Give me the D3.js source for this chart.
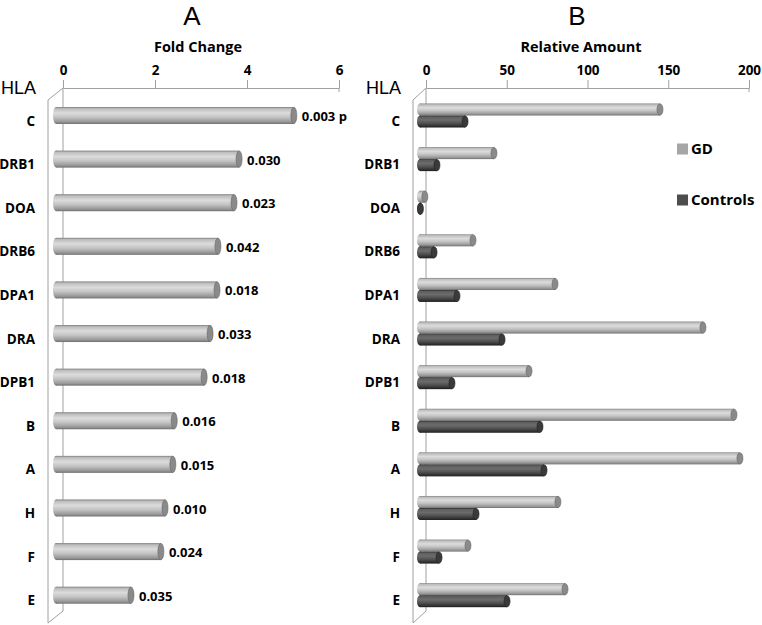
<!DOCTYPE html>
<html>
<head>
<meta charset="utf-8">
<script src="https://cdnjs.cloudflare.com/ajax/libs/d3/7.8.5/d3.min.js"></script>
<style>
  body { margin: 0; background: #fff; }
  text { font-family: "Open Sans", "Noto Sans", sans-serif; }
  .bold { font-weight: bold; }
</style>
</head>
<body>
<svg id="chart" width="762" height="625"></svg>
<script>
// HLA genes, top to bottom
var genes = ['C', 'DRB1', 'DOA', 'DRB6', 'DPA1', 'DRA', 'DPB1', 'B', 'A', 'H', 'F', 'E'];

// Panel A: fold change and p values
var foldChange = [5.17, 3.98, 3.87, 3.52, 3.50, 3.35, 3.22, 2.57, 2.54, 2.37, 2.28, 1.63];
var pLabels = ['0.003 p', '0.030', '0.023', '0.042', '0.018', '0.033', '0.018', '0.016', '0.015', '0.010', '0.024', '0.035'];

// Panel B: relative amount
var gdValues = [148.6, 45.8, 3, 32.8, 83.6, 175.2, 67.5, 194.4, 198.1, 85.4, 29.7, 89.8];
var controlValues = [27.9, 10.5, 0.3, 8.7, 22.9, 50.8, 19.8, 74.3, 76.8, 34.7, 11.8, 53.9];

var ticksA = [0, 2, 4, 6];
var ticksB = [0, 50, 100, 150, 200];
var seriesNames = ['GD', 'Controls'];

var svg = d3.select('#chart');
var defs = svg.append('defs');

// cylinder shading, top to bottom
function addGradient(id, stops) {
  var grad = defs.append('linearGradient')
    .attr('id', id)
    .attr('x1', 0).attr('y1', 0).attr('x2', 0).attr('y2', 1);
  stops.forEach(function(s) {
    grad.append('stop').attr('offset', s[0]).attr('stop-color', s[1]);
  });
}
addGradient('lightCyl', [[0, '#7c7c7c'], [0.1, '#bdbdbd'], [0.35, '#dcdcdc'], [0.6, '#c4c4c4'], [0.88, '#969696'], [1, '#6e6e6e']]);
addGradient('darkCyl', [[0, '#2c2c2c'], [0.12, '#5e5e5e'], [0.38, '#6c6c6c'], [0.65, '#505050'], [0.9, '#2e2e2e'], [1, '#1c1c1c']]);

var styles = {
  light: { fill: 'url(#lightCyl)', cap: '#8a8a8a', capStroke: '#666', swatch: '#a6a6a6' },
  dark: { fill: 'url(#darkCyl)', cap: '#3a3a3a', capStroke: '#222', swatch: '#4d4d4d' }
};

var yBand = d3.scaleBand().domain(genes).range([93.7, 617]);

function drawCylinder(g, x0, x1, yTop, h, style) {
  var rx = 3;
  var cy = yTop + h / 2;
  g.append('ellipse')
    .attr('cx', x0).attr('cy', cy).attr('rx', rx).attr('ry', h / 2)
    .attr('fill', style.fill);
  g.append('rect')
    .attr('x', x0).attr('y', yTop)
    .attr('width', Math.max(0, x1 - x0)).attr('height', h)
    .attr('fill', style.fill);
  g.append('ellipse')
    .attr('cx', x1).attr('cy', cy).attr('rx', rx).attr('ry', h / 2 - 0.3)
    .attr('fill', style.cap)
    .attr('stroke', style.capStroke).attr('stroke-width', 0.6);
}

// axis, 3D wall outline and labels shared by both panels
function drawFrame(opts) {
  var g = svg.append('g');
  var x = opts.x;
  var x0 = x.range()[0], xEnd = x.range()[1];
  var top = 88, bottom = 611;

  g.append('text')
    .attr('x', opts.titleX).attr('y', 25)
    .attr('text-anchor', 'middle')
    .style('font-family', '"Liberation Sans", Arial, sans-serif')
    .style('font-size', '26px')
    .text(opts.title);

  g.append('text')
    .attr('class', 'bold')
    .attr('x', opts.axisTitleX).attr('y', 52)
    .attr('text-anchor', 'middle')
    .style('font-size', '14.5px')
    .text(opts.axisTitle);

  g.append('text')
    .attr('x', opts.hlaX).attr('y', 94)
    .style('font-family', '"Liberation Sans", Arial, sans-serif')
    .style('font-size', '18px')
    .text('HLA');

  var axis = d3.axisTop(x)
    .tickValues(opts.ticks)
    .tickFormat(d3.format('d'))
    .tickSize(8)
    .tickSizeOuter(0)
    .tickPadding(5);

  var ax = g.append('g')
    .attr('transform', 'translate(0,' + top + ')')
    .call(axis);
  ax.select('.domain').attr('stroke', '#a0a0a0');
  ax.selectAll('.tick line').attr('stroke', '#a0a0a0');
  ax.selectAll('.tick text')
    .attr('class', 'bold')
    .attr('fill', '#000')
    .style('font-size', '13.5px');

  // back wall and front edge of the 3D floor
  var dx = opts.depthX, dy = 12;
  var wall = 'M' + xEnd + ',' + (top + 4) + 'L' + xEnd + ',' + top +
    'M' + x0 + ',' + top + 'L' + x0 + ',' + bottom +
    'L' + (x0 - dx) + ',' + (bottom + dy) +
    'L' + (x0 - dx) + ',' + (top + dy) +
    'L' + x0 + ',' + top;
  g.append('path')
    .attr('d', wall)
    .attr('fill', 'none')
    .attr('stroke', '#a0a0a0')
    .attr('stroke-width', 1);

  g.selectAll('.cat')
    .data(genes)
    .enter()
    .append('text')
    .attr('class', 'cat bold')
    .attr('x', opts.labelX)
    .attr('y', function(d) { return yBand(d) + yBand.bandwidth() / 2 + 10; })
    .attr('text-anchor', 'end')
    .style('font-size', '13.5px')
    .text(function(d) { return d; });

  return g;
}

// ---- Panel A ----
var xA = d3.scaleLinear().domain([0, 6]).range([63, 339]);
var gA = drawFrame({
  x: xA, ticks: ticksA, title: 'A', titleX: 192,
  axisTitle: 'Fold Change', axisTitleX: 198,
  hlaX: 1, labelX: 35, depthX: 15
});
var shiftA = -7;
var hA = 17;
genes.forEach(function(gene, i) {
  var cy = yBand(gene) + yBand.bandwidth() / 2;
  var xs = xA(0) + shiftA;
  var xe = xA(foldChange[i]) + shiftA;
  drawCylinder(gA, xs, xe, cy - hA / 2, hA, styles.light);
  gA.append('text')
    .attr('class', 'bold')
    .attr('x', xe + 8)
    .attr('y', cy + 1)
    .attr('dy', '0.35em')
    .style('font-size', '13px')
    .text(pLabels[i]);
});

// ---- Panel B ----
var xB = d3.scaleLinear().domain([0, 200]).range([426, 749]);
var gB = drawFrame({
  x: xB, ticks: ticksB, title: 'B', titleX: 577,
  axisTitle: 'Relative Amount', axisTitleX: 581,
  hlaX: 366, labelX: 400, depthX: 13
});
var shiftB = -6;
var hB = 12;
genes.forEach(function(gene, i) {
  var cy = yBand(gene) + yBand.bandwidth() / 2;
  var xs = xB(0) + shiftB;
  drawCylinder(gB, xs, xB(gdValues[i]) + shiftB, cy - hB, hB, styles.light);
  drawCylinder(gB, xs, xB(controlValues[i]) + shiftB, cy, hB, styles.dark);
});

// legend
var legend = svg.append('g');
var legendRows = [
  { name: seriesNames[0], style: styles.light, y: 149 },
  { name: seriesNames[1], style: styles.dark, y: 200 }
];
legendRows.forEach(function(r) {
  legend.append('rect')
    .attr('x', 677).attr('y', r.y - 5.5)
    .attr('width', 11).attr('height', 11)
    .attr('fill', r.style.swatch);
  legend.append('text')
    .attr('class', 'bold')
    .attr('x', 691).attr('y', r.y)
    .attr('dy', '0.35em')
    .style('font-size', '15px')
    .text(r.name);
});
</script>
</body>
</html>
